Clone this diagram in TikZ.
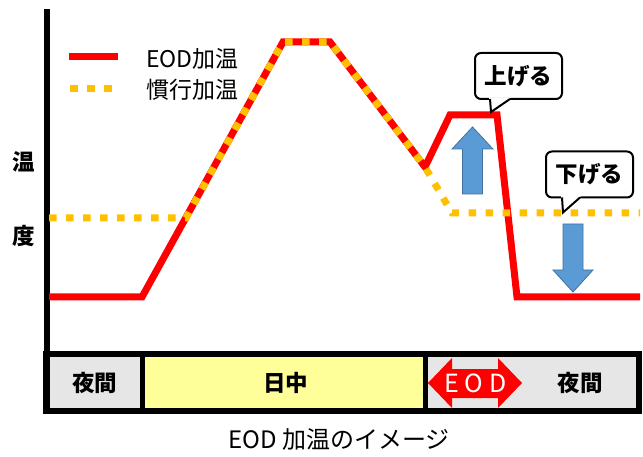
\documentclass[tikz,border=0pt]{standalone}
\usepackage{fontspec}
\setmainfont{Noto Sans CJK JP}
\usetikzlibrary{calc}
\definecolor{eodred}{HTML}{FF0000}
\definecolor{convorange}{HTML}{FFC000}
\definecolor{arrowblue}{HTML}{5B9BD5}
\definecolor{arrowedge}{HTML}{41719C}
\definecolor{cellgray}{HTML}{E6E6E6}
\definecolor{cellyellow}{HTML}{FFFF99}
\begin{document}
\begin{tikzpicture}[x=1pt,y=-1pt,
  eodline/.style={draw=eodred,line width=7pt,miter limit=10},
  convline/.style={draw=convorange,line width=7pt,dash pattern=on 7.5pt off 9.5pt},
  bluearrow/.style={fill=arrowblue,draw=arrowedge,line width=0.8pt},
  celltext/.style={font=\fontsize{22.5}{26}\selectfont\bfseries,inner sep=0pt},
  axistext/.style={font=\fontsize{22.5}{26}\selectfont\bfseries,inner sep=0pt},
  legendtext/.style={font=\fontsize{23}{26}\selectfont,inner sep=0pt,anchor=west},
  callbox/.style={draw=black,fill=white,line width=2pt,rounded corners=6pt,
    minimum width=87pt,minimum height=46pt,inner sep=0pt,outer sep=0pt,
    font=\fontsize{22.5}{26}\selectfont\bfseries},
  pointer/.style={draw=black,line width=2pt,line join=miter}
]
\useasboundingbox[fill=white] (0,0) rectangle (643,457);

% bottom band
\fill[cellgray] (46,354) rectangle (142,411);
\fill[cellyellow] (142,354) rectangle (425,411);
\fill[cellgray] (425,354) rectangle (639,411);
\draw[line width=6pt] (46,354) rectangle (639,411);
\draw[line width=5pt] (142,354) -- (142,411);
\draw[line width=5pt] (425,354) -- (425,411);

% vertical axis
\draw[line width=6pt] (46.5,9) -- (46.5,414);

% curves
\draw[eodline] (49,297) -- (142,297) -- (283,42) -- (330,42) -- (425,167)
  -- (450,115) -- (497,115) -- (517,297) -- (640,297);
\draw[convline] (49,218) -- (186,218) -- (283,42) -- (330,42) -- (425,167)
  -- (452,213) -- (640,213);

% legend
\draw[eodline] (69,56.5) -- (118,56.5);
\draw[convline] (70,88.5) -- (118,88.5);
\node[legendtext] (legEOD) at (146,59) {EOD加温};
\node[legendtext] (legConv) at (146,90) {慣行加温};

% axis label
\node[axistext] (yl1) at (24,162) {温};
\node[axistext] (yl2) at (24,236) {度};

% cell labels
\node[celltext] (nightL) at (94.5,382.5) {夜間};
\node[celltext] (day) at (285.5,382.5) {日中};
\node[celltext] (nightR) at (580,382.5) {夜間};

% EOD double arrow
\fill[eodred] (428,383) -- (452,358) -- (452,369) -- (498,369) -- (498,358)
  -- (522,383) -- (498,408) -- (498,398) -- (452,398) -- (452,408) -- cycle;
\node[text=white,font=\fontsize{25}{28}\selectfont,inner sep=0pt] (eodlbl) at (475.5,383)
  {E\kern6pt O\kern6pt D};

% blue arrows
\draw[bluearrow] (472.5,127) -- (493,149) -- (482.5,149) -- (482.5,194)
  -- (462.5,194) -- (462.5,149) -- (452,149) -- cycle;
\draw[bluearrow] (573,292) -- (593,270) -- (583,270) -- (583,224)
  -- (563,224) -- (563,270) -- (553,270) -- cycle;

% callouts
\node[callbox] (up) at (518.5,76) {上げる};
\fill[white] ($(up.south west)+(14,-1.5)$) -- ($(up.south west)+(16,13)$) -- ($(up.south west)+(36,-1.5)$) -- cycle;
\draw[pointer] ($(up.south west)+(15,0)$) -- ($(up.south west)+(16,13)$) -- ($(up.south west)+(35,0)$);

\node[callbox] (down) at (589.5,174.5) {下げる};
\fill[white] ($(down.south west)+(15,-1.5)$) -- ($(down.south west)+(17,15)$) -- ($(down.south west)+(35,-1.5)$) -- cycle;
\draw[pointer] ($(down.south west)+(16,0)$) -- ($(down.south west)+(17,15)$) -- ($(down.south west)+(34,0)$);

% caption
\node[font=\fontsize{24}{28}\selectfont,inner sep=0pt] (caption) at (339,440) {EOD 加温のイメージ};
\end{tikzpicture}
\end{document}
